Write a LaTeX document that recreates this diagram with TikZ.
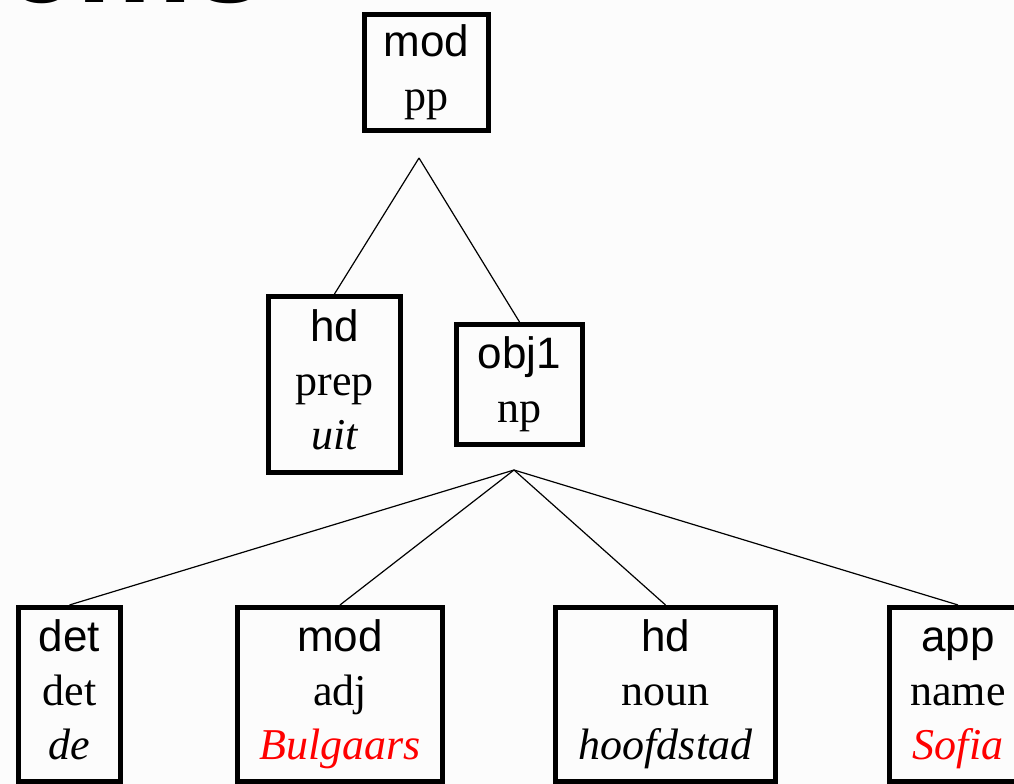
\documentclass[tikz,border=0pt]{standalone}
\usepackage{fontspec}
\setmainfont{Liberation Serif}
\setsansfont{Liberation Sans}
\usepackage{tikz}
\usetikzlibrary{positioning}
\definecolor{wordred}{RGB}{255,0,0}
\definecolor{paper}{RGB}{252,252,252}
\newcommand{\tribox}[3]{\strut{\sffamily #1}\\#2\\{\itshape #3}\strut}

\begin{document}
\begin{tikzpicture}[x=0.75pt, y=-0.75pt,
  main node/.style={draw,line width=3.6pt,align=center,inner sep=0pt,
    font=\fontsize{33}{40.5}\selectfont}]

\clip (0,0) rectangle (1014,784);
\fill[paper] (0,0) rectangle (1014,784);

% cut-off title
\node[anchor=base west,inner sep=0pt,
  font=\sffamily\bfseries\fontsize{98}{98}\selectfont] (T) at (4,3) {ems};

\node[main node,minimum width=93.2pt,minimum height=87.2pt] (A) at (426.5,72.5)
  {\strut{\sffamily mod}\\pp\strut};
\node[main node,minimum width=99.2pt,minimum height=132.2pt] (B) at (334.5,384.5)
  {\tribox{hd}{prep}{uit}};
\node[main node,minimum width=94.7pt,minimum height=90.2pt] (C) at (519.5,384.5)
  {\strut{\sffamily obj1}\\np\strut};
\node[main node,minimum width=76.7pt,minimum height=130.7pt] (D) at (69.5,694.5)
  {\tribox{det}{det}{de}};
\node[main node,minimum width=153.9pt,minimum height=130.7pt] (E) at (340,694.5)
  {\tribox{mod}{adj}{\color{wordred}Bulgaars}};
\node[main node,minimum width=165.2pt,minimum height=130.7pt] (F) at (665.5,694.5)
  {\tribox{hd}{noun}{hoofdstad}};
\node[main node,minimum width=102.9pt,minimum height=130.7pt] (G) at (958,694.5)
  {\tribox{app}{name}{\color{wordred}Sofia}};

\coordinate (X) at (419,158);
\coordinate (Y) at (514,470);

\path[line width=0.9pt]
(X) edge (B.north)
(X) edge (C.north)
(Y) edge (D.north)
(Y) edge (E.north)
(Y) edge (F.north)
(Y) edge (G.north)
;

\end{tikzpicture}
\end{document}
